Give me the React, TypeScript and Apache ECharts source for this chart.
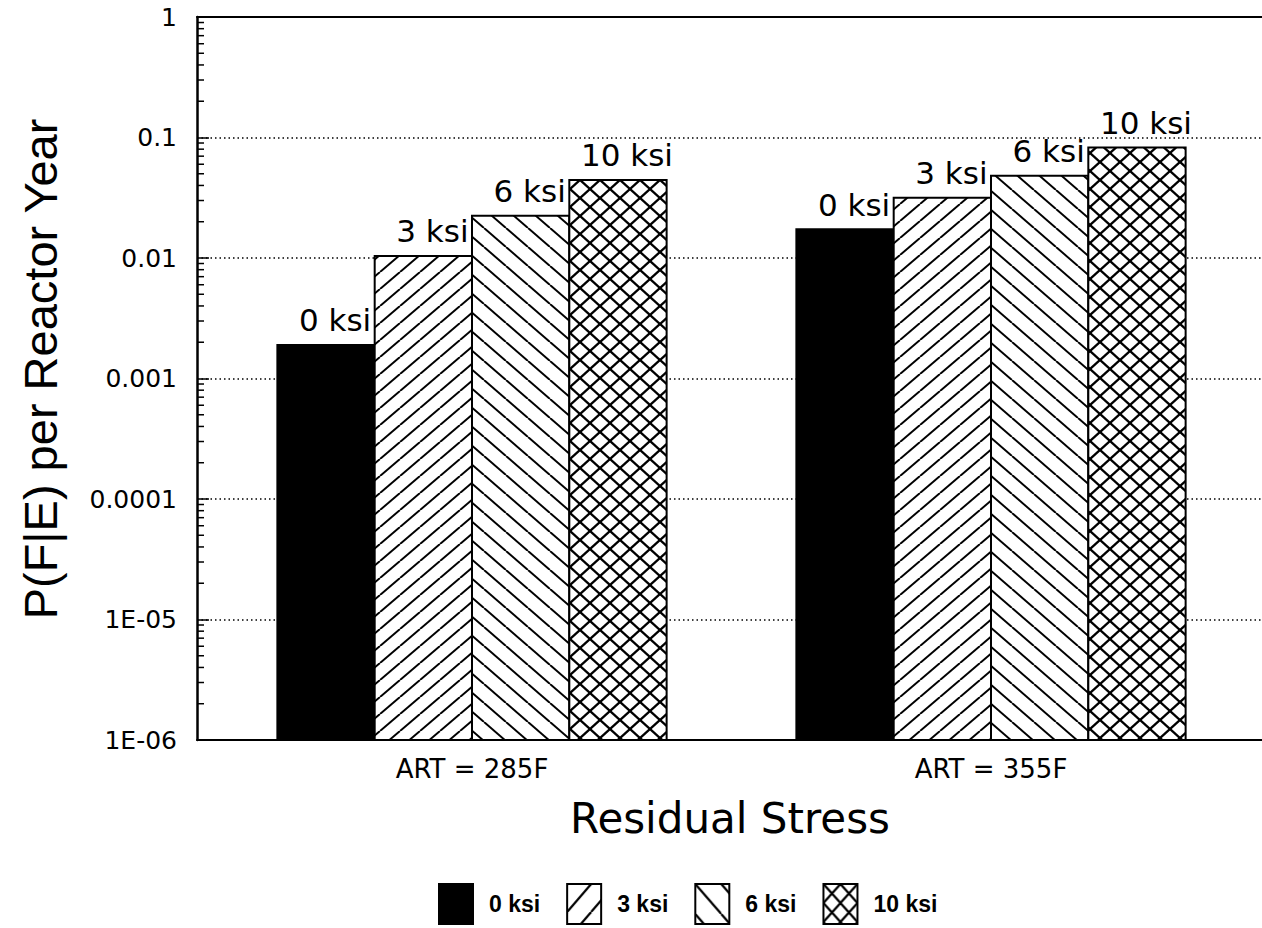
import React, { useEffect, useRef } from "react";
import * as echarts from "echarts";

const CATEGORIES = ["ART = 285F", "ART = 355F"];
const SERIES_NAMES = ["0 ksi", "3 ksi", "6 ksi", "10 ksi"];
const VALUES_0 = [0.0019, 0.0173];
const VALUES_3 = [0.0104, 0.0316];
const VALUES_6 = [0.0224, 0.0482];
const VALUES_10 = [0.0444, 0.0828];
const Y_TICK_LABELS = ["1E-06", "1E-05", "0.0001", "0.001", "0.01", "0.1", "1"];
const Y_MIN = 1e-6;
const Y_MAX = 1;
const DECADES = [1e-6, 1e-5, 1e-4, 1e-3, 1e-2, 1e-1];
const MINOR_MULTIPLIERS = [2, 3, 4, 5, 6, 7, 8, 9];

type Kind = "fwd" | "back" | "cross";

function makePattern(w: number, h: number, kind: Kind, lw: number) {
  const c = document.createElement("canvas");
  c.width = w;
  c.height = h;
  const g = c.getContext("2d")!;
  g.fillStyle = "#fff";
  g.fillRect(0, 0, w, h);
  g.strokeStyle = "#000";
  g.lineWidth = lw;
  const fwd = () => {
    for (const dx of [-w, 0, w]) {
      g.beginPath();
      g.moveTo(dx, h);
      g.lineTo(dx + w, 0);
      g.stroke();
    }
  };
  const back = () => {
    for (const dx of [-w, 0, w]) {
      g.beginPath();
      g.moveTo(dx, 0);
      g.lineTo(dx + w, h);
      g.stroke();
    }
  };
  if (kind === "fwd" || kind === "cross") fwd();
  if (kind === "back" || kind === "cross") back();
  return { image: c.toDataURL(), repeat: "repeat", imageWidth: w, imageHeight: h };
}

export default function App() {
  const ref = useRef<HTMLDivElement>(null);
  useEffect(() => {
    if (!ref.current) return;
    const chart = echarts.init(ref.current, null, { renderer: "svg" });

    const pFwd = makePattern(20, 17, "fwd", 2);
    const pBack = makePattern(22, 19, "back", 2);
    const pCross = makePattern(20, 18, "cross", 2.4);
    const lFwd = makePattern(24, 28, "fwd", 2.2);
    const lBack = makePattern(26, 30, "back", 2.2);
    const lCross = makePattern(17, 19, "cross", 2.2);

    const minorTicks: number[][] = [];
    DECADES.forEach((d) => MINOR_MULTIPLIERS.forEach((m) => minorTicks.push([0, m * d])));

    const hFont = "DejaVu Sans";
    const seriesData = [VALUES_0, VALUES_3, VALUES_6, VALUES_10];
    const fills: any[] = ["#000", pFwd, pBack, pCross];
    const legendFills: any[] = ["#000", lFwd, lBack, lCross];
    const nSeries = SERIES_NAMES.length;

    const barSeries = SERIES_NAMES.map((name, i) => ({
      type: "custom",
      name,
      xAxisIndex: 0,
      yAxisIndex: 0,
      data: seriesData[i].map((v, j) => [j, v]),
      itemStyle: { color: fills[i] },
      renderItem: (params: any, api: any) => {
        const j = api.value(0);
        const v = api.value(1);
        const top = api.coord([j, v]);
        const base = api.coord([j, Y_MIN]);
        const band = api.size([1, 0])[0];
        const bw = (band * 0.75) / nSeries;
        const x = top[0] - (bw * nSeries) / 2 + i * bw;
        return {
          type: "rect",
          shape: { x, y: top[1], width: bw, height: base[1] - top[1] },
          style: { fill: fills[i], stroke: "#000", lineWidth: 2 },
          textContent: {
            style: {
              text: name,
              fontFamily: hFont,
              fontSize: 31,
              fill: "#000",
            },
          },
          textConfig: { position: "top", distance: 8, offset: [9, 0] },
        };
      },
    }));

    const option: any = {
      animation: false,
      backgroundColor: "#fff",
      grid: [
        { left: 212.5, right: 11.5, top: 17, bottom: 188 },
        { left: 197, right: 0, top: 17, bottom: 188 },
      ],
      xAxis: [
        {
          type: "category",
          gridIndex: 0,
          data: CATEGORIES,
          axisLine: { show: false },
          axisTick: { show: false },
          axisLabel: { fontFamily: hFont, fontSize: 26, color: "#000", margin: 16 },
        },
        {
          type: "value",
          gridIndex: 1,
          min: 0,
          max: 1,
          position: "bottom",
          axisLine: { show: true, lineStyle: { color: "#000", width: 2 } },
          axisTick: { show: false },
          axisLabel: { show: false },
          splitLine: { show: false },
        },
        {
          type: "value",
          gridIndex: 1,
          min: 0,
          max: 1,
          position: "top",
          axisLine: { show: true, lineStyle: { color: "#000", width: 2 } },
          axisTick: { show: false },
          axisLabel: { show: false },
          splitLine: { show: false },
        },
      ],
      yAxis: [
        {
          type: "log",
          gridIndex: 0,
          logBase: 10,
          min: Y_MIN,
          max: Y_MAX,
          show: false,
        },
        {
          type: "log",
          gridIndex: 1,
          logBase: 10,
          min: Y_MIN,
          max: Y_MAX,
          splitNumber: 6,
          axisLine: { show: true, lineStyle: { color: "#000", width: 2.5 } },
          axisTick: { show: true, inside: true, length: 12, lineStyle: { color: "#000", width: 1.5 } },
          axisLabel: {
            fontFamily: hFont,
            fontSize: 25,
            color: "#000",
            margin: 20,
            formatter: (v: number) => Y_TICK_LABELS[Math.round(Math.log10(v)) + 6] ?? "",
          },
          splitLine: { show: true, lineStyle: { color: "#000", width: 1.5, type: [1.5, 3] } },
        },
      ],
      legend: {
        left: 438,
        top: 883,
        padding: 0,
        itemWidth: 34,
        itemHeight: 40,
        itemGap: 26,
        icon: "rect",
        itemStyle: { borderColor: "#000", borderWidth: 2 },
        textStyle: {
          fontFamily: "Liberation Sans",
          fontWeight: "bold",
          fontSize: 23,
          color: "#000",
          padding: [0, 0, 0, 11],
        },
        data: SERIES_NAMES.map((name, i) => ({ name, itemStyle: { color: legendFills[i] } })),
      },
      graphic: [
        {
          type: "text",
          x: 40,
          y: 369,
          rotation: Math.PI / 2,
          style: {
            text: "P(F|E) per Reactor Year",
            fontFamily: "Liberation Sans",
            fontSize: 47,
            fill: "#000",
            align: "center",
            verticalAlign: "middle",
          },
        },
        {
          type: "text",
          x: 730,
          y: 818,
          style: {
            text: "Residual Stress",
            fontFamily: hFont,
            fontSize: 42,
            fill: "#000",
            align: "center",
            verticalAlign: "middle",
          },
        },
      ],
      series: [
        ...barSeries,
        {
          type: "custom",
          xAxisIndex: 1,
          yAxisIndex: 1,
          data: minorTicks,
          silent: true,
          renderItem: (params: any, api: any) => {
            const p = api.coord([0, api.value(1)]);
            return {
              type: "line",
              shape: { x1: p[0], y1: p[1], x2: p[0] + 7, y2: p[1] },
              style: { stroke: "#000", lineWidth: 1.5 },
            };
          },
        },
      ],
    };
    chart.setOption(option);
    return () => chart.dispose();
  }, []);
  return <div ref={ref} style={{ width: 1262, height: 928, position: "absolute", left: 0, top: 0 }} />;
}
